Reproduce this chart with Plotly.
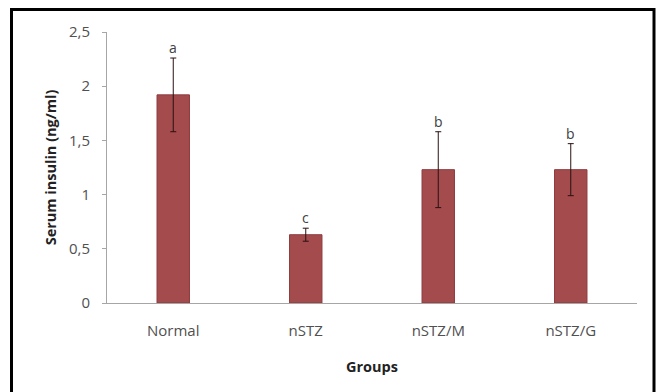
import plotly.graph_objects as go

groups = ["Normal", "nSTZ", "nSTZ/M", "nSTZ/G"]
insulin = [1.92, 0.63, 1.23, 1.23]
sem = [0.34, 0.06, 0.35, 0.24]
letters = ["a", "c", "b", "b"]
y_ticks = [0, 0.5, 1, 1.5, 2, 2.5]
y_tick_text = ["0", "0,5", "1", "1,5", "2", "2,5"]

W, H = 657, 392
L, R, T, B = 107, 20, 32, 89
pw, ph = W - L - R, H - T - B

def px(x):
    return (x - L) / pw

def py(y):
    return (H - B - y) / ph

FONT = "Open Sans"

fig = go.Figure()
fig.add_trace(go.Bar(
    x=groups, y=insulin, width=0.245,
    marker=dict(color="#A44B4E", line=dict(color="#8E3B3D", width=1)),
    error_y=dict(type="data", array=sem, visible=True, color="#2a1010",
                 thickness=1, width=3),
    showlegend=False,
))

for g, v, e, t in zip(groups, insulin, sem, letters):
    fig.add_annotation(x=g, y=v + e, text=t, showarrow=False,
                       yanchor="bottom", yshift=-1,
                       font=dict(family=FONT, size=14, color="#404040"))

fig.add_shape(type="rect", xref="paper", yref="paper",
              x0=px(11.5), x1=px(654), y0=py(400), y1=py(9.5),
              line=dict(color="black", width=3), fillcolor="rgba(0,0,0,0)")

fig.update_layout(
    width=W, height=H,
    margin=dict(l=L, r=R, t=T, b=B),
    plot_bgcolor="white", paper_bgcolor="white",
    font=dict(family=FONT, color="#505050", size=15),
    bargap=0.75,
)
fig.update_yaxes(range=[0, 2.5], tickvals=y_ticks, ticktext=y_tick_text,
                 showline=True, linecolor="#A6A6A6", linewidth=1,
                 ticks="outside", ticklen=4, tickcolor="#A6A6A6",
                 ticklabelstandoff=9,
                 showgrid=False, zeroline=False,
                 tickfont=dict(family=FONT, size=15, color="#505050"),
                 title=dict(text="<b>Serum insulin (ng/ml)</b>",
                            font=dict(family=FONT, size=14.5, color="#222222"),
                            standoff=8))
fig.update_xaxes(showline=True, linecolor="#A6A6A6", linewidth=1,
                 ticks="", showgrid=False, ticklabelstandoff=14,
                 tickfont=dict(family=FONT, size=15, color="#505050"),
                 title=dict(text="<b>Groups</b>",
                            font=dict(family=FONT, size=14.5, color="#222222"),
                            standoff=22))

fig.write_html(
    "out.html",
    config={"displayModeBar": False},
    post_script="document.body.style.margin='0';"
                "document.body.style.overflow='hidden';",
)
